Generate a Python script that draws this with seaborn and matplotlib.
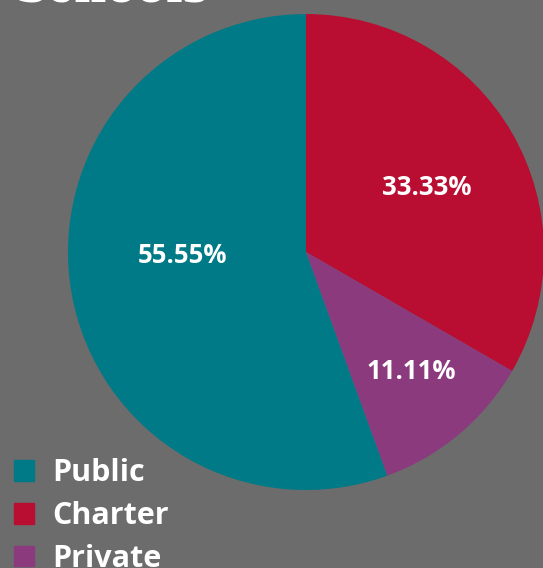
import numpy as np
import matplotlib
matplotlib.use('Agg')
import matplotlib.pyplot as plt
import matplotlib.patches as mpatches
import seaborn as sns

# Chart data
school_types = ['Public', 'Charter', 'Private']
shares = [55.55, 33.33, 11.11]
slice_colors = ['#007a86', '#b90d31', '#8b3a7e']
label_radius = [0.517, 0.575, 0.667]
label_shift = [-8.6, -2.0, 1.4]   # degrees off the wedge middle

bg = '#6c6c6c'

sns.set_theme(style='white')
plt.rcParams['font.family'] = ['Open Sans', 'DejaVu Sans']

fig = plt.figure(figsize=(5.43, 5.68), dpi=100)
fig.patch.set_facecolor(bg)

# pie axes placed so the circle sits where the reference draws it
ax = fig.add_axes([0.1252, 0.1373, 0.8766, 0.838])
ax.set_facecolor(bg)
wedges, _ = ax.pie(shares, colors=slice_colors, startangle=290,
                   counterclock=False, radius=1.0,
                   wedgeprops=dict(linewidth=0))
ax.set_aspect('equal')
ax.set_xlim(-1, 1)
ax.set_ylim(-1, 1)
ax.axis('off')

# percentage labels near the middle angle of each wedge
for w, v, r, s in zip(wedges, shares, label_radius, label_shift):
    mid = np.deg2rad((w.theta1 + w.theta2) / 2 + s)
    ax.text(r * np.cos(mid), r * np.sin(mid), f'{v:.2f}%',
            ha='center', va='center', color='white',
            fontsize=18.5, fontweight='bold')

# title, mostly cut off at the top edge
fig.text(0.028, 1 - 1 / 568, 'Schools', color='white', fontsize=32,
         fontweight='bold', family='DejaVu Serif', va='baseline')

handles = [mpatches.Patch(color=c, label=t) for c, t in zip(slice_colors, school_types)]
leg = fig.legend(handles=handles, loc='lower left', bbox_to_anchor=(-0.014, -0.048),
                 frameon=False, fontsize=22, handlelength=0.66, handleheight=0.66,
                 handletextpad=0.6, labelspacing=0.42, borderaxespad=0.3)
for t in leg.get_texts():
    t.set_color('white')
    t.set_fontweight('bold')

fig.savefig('out.png', dpi=100, facecolor=bg)
